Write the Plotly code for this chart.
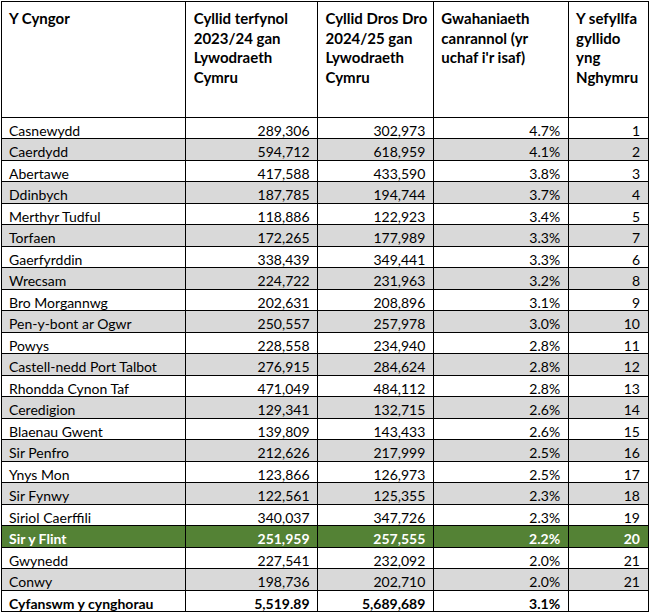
import plotly.graph_objects as go
import plotly.io as pio

cynghorau = [
    "Casnewydd", "Caerdydd", "Abertawe", "Ddinbych", "Merthyr Tudful",
    "Torfaen", "Gaerfyrddin", "Wrecsam", "Bro Morgannwg", "Pen-y-bont ar Ogwr",
    "Powys", "Castell-nedd Port Talbot", "Rhondda Cynon Taf", "Ceredigion",
    "Blaenau Gwent", "Sir Penfro", "Ynys Mon", "Sir Fynwy", "Siriol Caerffili",
    "Sir y Flint", "Gwynedd", "Conwy",
]
cyllid_2023 = [
    289306, 594712, 417588, 187785, 118886, 172265, 338439, 224722, 202631,
    250557, 228558, 276915, 471049, 129341, 139809, 212626, 123866, 122561,
    340037, 251959, 227541, 198736,
]
cyllid_2024 = [
    302973, 618959, 433590, 194744, 122923, 177989, 349441, 231963, 208896,
    257978, 234940, 284624, 484112, 132715, 143433, 217999, 126973, 125355,
    347726, 257555, 232092, 202710,
]
gwahaniaeth = [
    4.7, 4.1, 3.8, 3.7, 3.4, 3.3, 3.3, 3.2, 3.1, 3.0, 2.8, 2.8, 2.8, 2.6,
    2.6, 2.5, 2.5, 2.3, 2.3, 2.2, 2.0, 2.0,
]
safle = [1, 2, 3, 4, 5, 7, 6, 8, 9, 10, 11, 12, 13, 14, 15, 16, 17, 18, 19, 20, 21, 21]

cyfanswm = ["Cyfanswm y cynghorau", "5,519.89", "5,689,689", "3.1%", ""]

penawdau = [
    "Y Cyngor",
    "Cyllid terfynol<br>2023/24 gan<br>Lywodraeth<br>Cymru",
    "Cyllid Dros Dro<br>2024/25 gan<br>Lywodraeth<br>Cymru",
    "Gwahaniaeth<br>canrannol (yr<br>uchaf i'r isaf)",
    "Y sefyllfa<br>gyllido<br>yng<br>Nghymru",
]

uchafbwynt = "Sir y Flint"

# column texts, total row appended at the bottom
cols = [
    list(cynghorau),
    [f"{v:,}" for v in cyllid_2023],
    [f"{v:,}" for v in cyllid_2024],
    [f"{v:.1f}%" for v in gwahaniaeth],
    [str(v) for v in safle],
]
for c in range(5):
    cols[c].append(cyfanswm[c])

n = len(cynghorau) + 1
row_fill, row_font, row_weight = [], [], []
for i in range(n):
    if i == n - 1:
        row_fill.append("white"); row_font.append("black"); row_weight.append(700)
    elif cynghorau[i] == uchafbwynt:
        row_fill.append("#548235"); row_font.append("white"); row_weight.append(700)
    elif i % 2 == 1:
        row_fill.append("#d9d9d9"); row_font.append("black"); row_weight.append(400)
    else:
        row_fill.append("white"); row_font.append("black"); row_weight.append(400)

fig = go.Figure(go.Table(
    columnwidth=[185, 132, 116, 135, 80],
    header=dict(
        values=[f"<b>{h}</b>" for h in penawdau],
        align="left",
        fill_color="white",
        line=dict(color="black", width=1),
        font=dict(family="Lato", size=15, color="black"),
        height=116,
    ),
    cells=dict(
        values=cols,
        align=["left", "right", "right", "right", "right"],
        fill_color=[row_fill] * 5,
        line=dict(color="black", width=1),
        font=dict(family="Lato", size=14, color=[row_font] * 5),
        height=21.5,
    ),
))

fig.update_layout(
    width=650,
    height=614,
    margin=dict(l=1, r=2, t=1, b=0),
    paper_bgcolor="white",
)

# plotly.js picks font weight per cell, the python validator only allows 1D
spec = fig.to_dict()
spec["data"][0]["cells"]["font"]["weight"] = [row_weight] * 5

pio.write_html(spec, "out.html", validate=False,
               config={"displayModeBar": False},
               post_script="document.body.style.margin='0';")
